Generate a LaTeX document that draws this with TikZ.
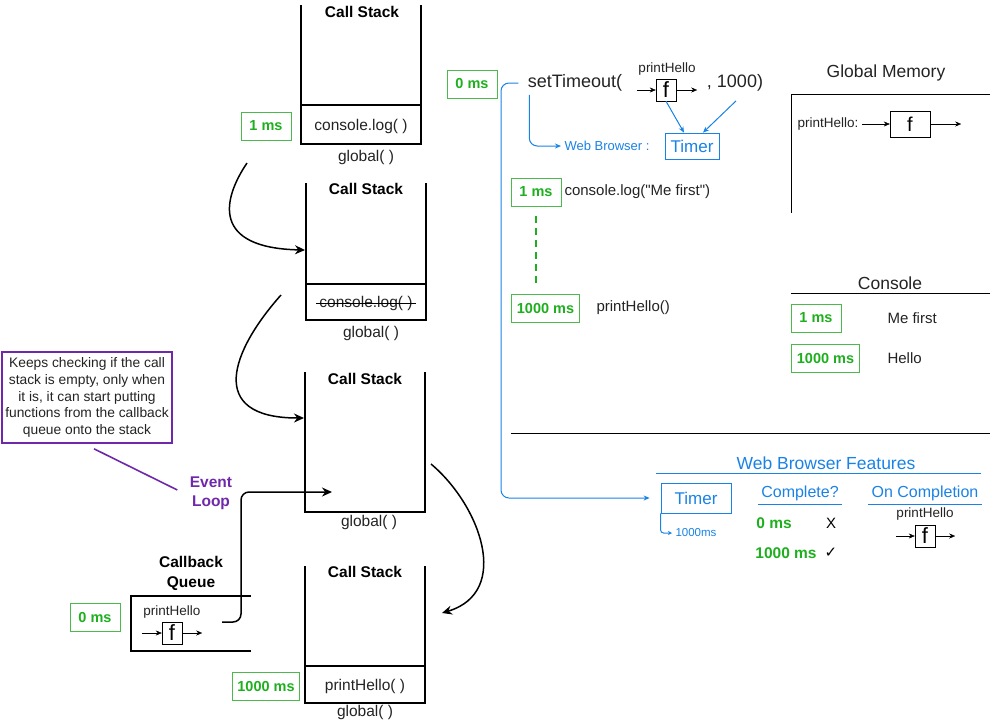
\documentclass[tikz,border=0pt]{standalone}
\usepackage{fontspec}
\setmainfont{Liberation Sans}
\newfontfamily\symfont{DejaVu Sans}
\usetikzlibrary{arrows.meta}

\definecolor{msgreen}{RGB}{30,175,30}
\definecolor{msline}{RGB}{75,185,75}
\definecolor{wbblue}{RGB}{25,130,230}
\definecolor{looppurple}{RGB}{112,40,170}
\definecolor{inkgray}{RGB}{35,35,35}
\newcommand{\fsz}[2]{\fontsize{#1}{#2}\selectfont}

\tikzset{
  stackline/.style={line width=1.5pt},
  bigarrow/.style={line width=1.5pt,-{Stealth[length=10pt,width=9pt]}},
  smallarrow/.style={-{Stealth[length=6pt,width=5pt]}},
  tinyarrow/.style={-{Stealth[length=4pt,width=4pt]}},
  msbox/.style={draw=msline,thick,text=msgreen,font=\bfseries\fsz{14.5}{17},
    minimum width=50pt,minimum height=28pt,inner xsep=5pt},
  fbox/.style={draw,minimum width=20pt,minimum height=22pt,inner sep=0pt,font=\fsz{22}{22}},
  stacktitle/.style={font=\bfseries\fsz{15.5}{20}},
  stacktext/.style={text=inkgray,font=\fsz{15.5}{18}},
  bodytext/.style={text=inkgray,font=\fsz{15}{18}},
  smalltext/.style={text=inkgray,font=\fsz{13.5}{16}},
  headtext/.style={text=inkgray,font=\fsz{17.5}{20}},
  blueline/.style={wbblue,line width=1pt},
}

\begin{document}
\begin{tikzpicture}[x=1pt,y=-1pt]
  \useasboundingbox (0,0) rectangle (993,724);

  % call stacks
  \draw[stackline] (301,5) |- (421,144) -- (421,5);
  \draw[stackline] (301,105) -- (421,105);
  \node[stacktitle] (cs1) at (362,12) {Call Stack};
  \node[stacktext] (cs1log) at (361,126) {console.log( )};
  \node[stacktext] (cs1glob) at (366,157) {global( )};
  \node[msbox] (ms1a) at (266,126) {1 ms};

  \draw[stackline] (306,183) |- (426,320) -- (426,183);
  \draw[stackline] (306,284) -- (426,284);
  \node[stacktitle] (cs2) at (366,189) {Call Stack};
  \node[stacktext] (cs2log) at (366,303) {console.log( )};
  \draw[thick] (cs2log.west) -- (cs2log.east);
  \node[stacktext] (cs2glob) at (371,333) {global( )};

  \draw[stackline] (305,372) |- (425,512) -- (425,372);
  \node[stacktitle] (cs3) at (365,379) {Call Stack};
  \node[stacktext] (cs3glob) at (369,522) {global( )};

  \draw[stackline] (305,566) |- (425,703) -- (425,566);
  \draw[stackline] (305,666) -- (425,666);
  \node[stacktitle] (cs4) at (365,572) {Call Stack};
  \node[stacktext] (cs4hello) at (365,686) {printHello( )};
  \node[stacktext] (cs4glob) at (365,712) {global( )};
  \node[msbox] (ms1000b) at (266,686) {1000 ms};

  % moves between the stacks
  \coordinate (a1s) at (247,163);
  \coordinate (a1e) at (305,250);
  \draw[bigarrow] (a1s) .. controls (222,200) and (212,248) .. (a1e);
  \coordinate (a2s) at (281,295);
  \coordinate (a2e) at (304,418);
  \draw[bigarrow] (a2s) .. controls (232,350) and (205,418) .. (a2e);
  \coordinate (a3s) at (431,464);
  \coordinate (a3e) at (442,613);
  \draw[bigarrow] (a3s) .. controls (480,505) and (512,592) .. (a3e);

  % callback queue
  \draw[line width=1.2pt] (251,596) -- (131,596) -- (131,651) -- (251,651);
  \node[stacktitle,align=center] (cbq) at (191,573) {Callback\\Queue};
  \node[smalltext] (cbqname) at (172,612) {printHello};
  \node[fbox] (cbqf) at (172,633) {f};
  \draw[smallarrow] ([xshift=-20pt]cbqf.west) -- (cbqf.west);
  \draw[smallarrow] (cbqf.east) -- ++(20,0);
  \node[msbox] (ms0b) at (95,617) {0 ms};

  % event loop
  \coordinate (elstart) at (222,622);
  \coordinate (elend) at (332,492);
  \draw[bigarrow,rounded corners=8pt] (elstart) -- (241,622) -- (241,492) -- (elend);
  \node[draw=looppurple,line width=1.6pt,align=center,text=inkgray,font=\fsz{13.8}{16.8},
    minimum width=170pt,minimum height=91pt,inner sep=2pt] (note) at (87,397.5)
    {Keeps checking if the call\\stack is empty, only when\\it is, it can start putting\\functions from the callback\\queue onto the stack};
  \node[text=looppurple,font=\bfseries\fsz{15.5}{19},align=center] (evloop) at (211,493) {Event\\Loop};
  \draw[looppurple,line width=1.6pt] ([shift={(7pt,-5pt)}]note.south) -- ([shift={(-9pt,3pt)}]evloop.west);

  % setTimeout line
  \node[msbox] (ms0a) at (472,84) {0 ms};
  \node[text=inkgray,font=\fsz{18}{20}] (settimeout) at (575,83) {setTimeout(};
  \node[smalltext] (stname) at (667,69) {printHello};
  \node[fbox] (stf) at (666,90) {f};
  \draw[smallarrow] ([xshift=-19pt]stf.west) -- (stf.west);
  \draw[smallarrow] (stf.east) -- ++(21,0);
  \node[text=inkgray,font=\fsz{18}{20}] (stdelay) at (735,83) {, 1000)};
  \node[text=wbblue,font=\fsz{13}{16}] (wbname) at (607,146) {Web Browser :};
  \node[draw=wbblue,thick,text=wbblue,font=\fsz{17}{20},minimum width=54pt,minimum height=26pt,inner sep=0pt] (timerA) at (692,146) {Timer};
  \draw[blueline,smallarrow] (stf.south) -- ([xshift=-8pt]timerA.north);
  \draw[blueline,smallarrow] ([shift={(1pt,-6pt)}]stdelay.south) -- ([xshift=11pt]timerA.north);
  \draw[blueline,smallarrow,rounded corners=8pt] ([xshift=5pt]settimeout.south west) |- (wbname.west);

  % global memory
  \node[headtext] (gmtitle) at (886,73) {Global Memory};
  \draw (990,94) -- (791,94) -- (791,213);
  \node[smalltext] (gmname) at (828,124) {printHello:};
  \node[fbox,minimum width=40pt,minimum height=26pt,font=\fsz{20}{20}] (gmf) at (910,124) {f};
  \draw[smallarrow] (gmname.east) -- (gmf.west);
  \draw[smallarrow] (gmf.east) -- ++(31,0);

  % timeline
  \node[msbox] (ms1b) at (536,192) {1 ms};
  \node[bodytext,anchor=west] (melog) at (561,192) {console.log(\textquotedbl Me first\textquotedbl)};
  \node[msbox] (ms1000a) at (545.5,308) {1000 ms};
  \node[bodytext,anchor=west] (phcall) at (593,308) {printHello()};
  \draw[msgreen,line width=1.5pt,dash pattern=on 7pt off 5pt,shorten <=10pt,shorten >=10pt]
    (ms1b.south) -- (ms1b.south |- ms1000a.north);

  % console
  \node[headtext] (contitle) at (890,283) {Console};
  \draw (791,293) -- (990,293);
  \node[msbox] (ms1c) at (816,318) {1 ms};
  \node[bodytext,anchor=west] (out1) at (884,318) {Me first};
  \node[msbox] (ms1000c) at (825.5,358) {1000 ms};
  \node[bodytext,anchor=west] (out2) at (884,358) {Hello};

  \draw (511,433) -- (990,433);

  % web browser features
  \node[headtext,text=wbblue] (wbftitle) at (826,463) {Web Browser Features};
  \draw[blueline] (656,473) -- (981,473);
  \node[draw=wbblue,thick,text=wbblue,font=\fsz{17}{20},minimum width=70pt,minimum height=30pt,inner sep=0pt] (timerB) at (696,498) {Timer};
  \node[text=wbblue,font=\fsz{11.5}{14},anchor=west] (timerms) at (672,533) {1000ms};
  \draw[blueline,tinyarrow,rounded corners=3pt] (timerB.south west) |- (timerms.west);
  \draw[blueline,smallarrow,rounded corners=8pt] ([xshift=-6pt]settimeout.west) -- (501,83) -- (501,498) -- ([xshift=-11pt]timerB.west);

  \node[text=wbblue,font=\fsz{16}{19}] (complete) at (800,493) {Complete?};
  \draw[blueline] (complete.south west) -- (complete.south east);
  \node[text=wbblue,font=\fsz{16}{19}] (oncomp) at (925,493) {On Completion};
  \draw[blueline] (oncomp.south west) -- (oncomp.south east);
  \node[text=msgreen,font=\bfseries\fsz{15.5}{18}] (wait0) at (774,523) {0 ms};
  \node[bodytext,text=black] (notdone) at (831,523) {X};
  \node[text=msgreen,font=\bfseries\fsz{15.5}{18}] (wait1000) at (786,553) {1000 ms};
  \node[font=\symfont\fsz{15}{18}] (done) at (831,553) {✓};
  \node[smalltext] (ocname) at (925,514) {printHello};
  \node[fbox] (ocf) at (925,536) {f};
  \draw[smallarrow] ([xshift=-19pt]ocf.west) -- (ocf.west);
  \draw[smallarrow] (ocf.east) -- ++(20,0);
\end{tikzpicture}
\end{document}
